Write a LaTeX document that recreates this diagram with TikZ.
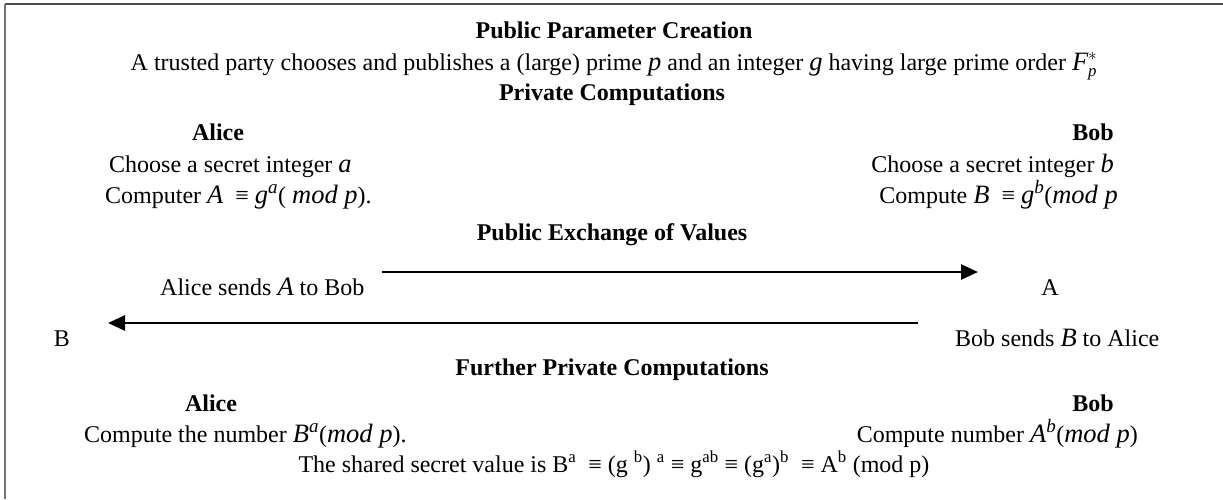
\documentclass[tikz,border=0pt]{standalone}
\usepackage{amsmath}
\usepackage{fontspec}
\setmainfont{Liberation Serif}
\usetikzlibrary{arrows.meta}

% italic variables (set a little larger than the text) and italic superscripts
\newcommand{\mv}[1]{{\fontsize{26.5}{28}\selectfont\itshape #1}}
\newcommand{\up}[1]{\textsuperscript{\fontsize{19}{20}\selectfont\itshape #1}}

\begin{document}
\begin{tikzpicture}[x=1pt,y=-1pt,
  txt/.style={inner sep=0pt,anchor=base,font=\fontsize{24}{28}\selectfont},
  head/.style={txt,font=\fontsize{24}{28}\selectfont\bfseries},
  msg/.style={line width=2.7pt,-{Triangle[length=17pt,width=15pt]}}]
\useasboundingbox (0,0) rectangle (1223,499);

% frame
\draw[line width=2pt,black!70] (5,4) -- (1223,4);
\draw[line width=1.5pt,black!55] (5,4) -- (5,499);

% public parameters
\node[head] (t1) at (614,38) {Public Parameter Creation};
\node[txt] (t2) at (614,70) {A trusted party chooses and publishes a (large) prime \mv{p} and an integer \mv{g} having large prime order \mv{F}$_{\text{\itshape p}}^{*}$};

% private computations
\node[head] (t3) at (612,100) {Private Computations};
\node[head] (alice1) at (218,140) {Alice};
\node[txt,anchor=base west] (ca) at (109,172) {Choose a secret integer \mv{a}};
\node[txt,anchor=base west] (cA) at (105,203) {Computer \mv{A} \ ≡ \mv{g}\up{a}( \mv{mod p}).};
\node[head,anchor=base east] (bob1) at (1114,140) {Bob};
\node[txt,anchor=base east] (cb) at (1114,172) {Choose a secret integer \mv{b}};
\node[txt,anchor=base east] (cB) at (1118,203) {Compute \mv{B} \ ≡ \mv{g}\up{b}(\mv{mod p}};

% public exchange
\node[head] (t4) at (612,240) {Public Exchange of Values};
\node[txt,anchor=base west] (sa) at (160,295) {Alice sends \mv{A} to Bob};
\node[txt] (rA) at (1050,295) {A};
\node[txt] (rB) at (62,346) {B};
\node[txt,anchor=base west] (sb) at (955,346) {Bob sends \mv{B} to Alice};
\coordinate (a1s) at (382,272);
\coordinate (a1e) at (978,272);
\coordinate (a2s) at (918,323);
\coordinate (a2e) at (108,323);
\draw[msg] (a1s) -- (a1e);
\draw[msg] (a2s) -- (a2e);

% further private computations
\node[head] (t5) at (612,375) {Further Private Computations};
\node[head] (alice2) at (211,411) {Alice};
\node[head,anchor=base east] (bob2) at (1114,411) {Bob};
\node[txt,anchor=base west] (kA) at (84,442) {Compute the number \mv{B}\up{a}(\mv{mod p}).};
\node[txt,anchor=base east] (kB) at (1138,442) {Compute number \mv{A}\up{b}(\mv{mod p})};
\node[txt] (key) at (614,472) {The shared secret value is B\textsuperscript{a} \ ≡ (g \textsuperscript{b}) \textsuperscript{a} ≡ g\textsuperscript{ab} ≡ (g\textsuperscript{a})\textsuperscript{b} \ ≡ A\textsuperscript{b} (mod p)};
\end{tikzpicture}
\end{document}
